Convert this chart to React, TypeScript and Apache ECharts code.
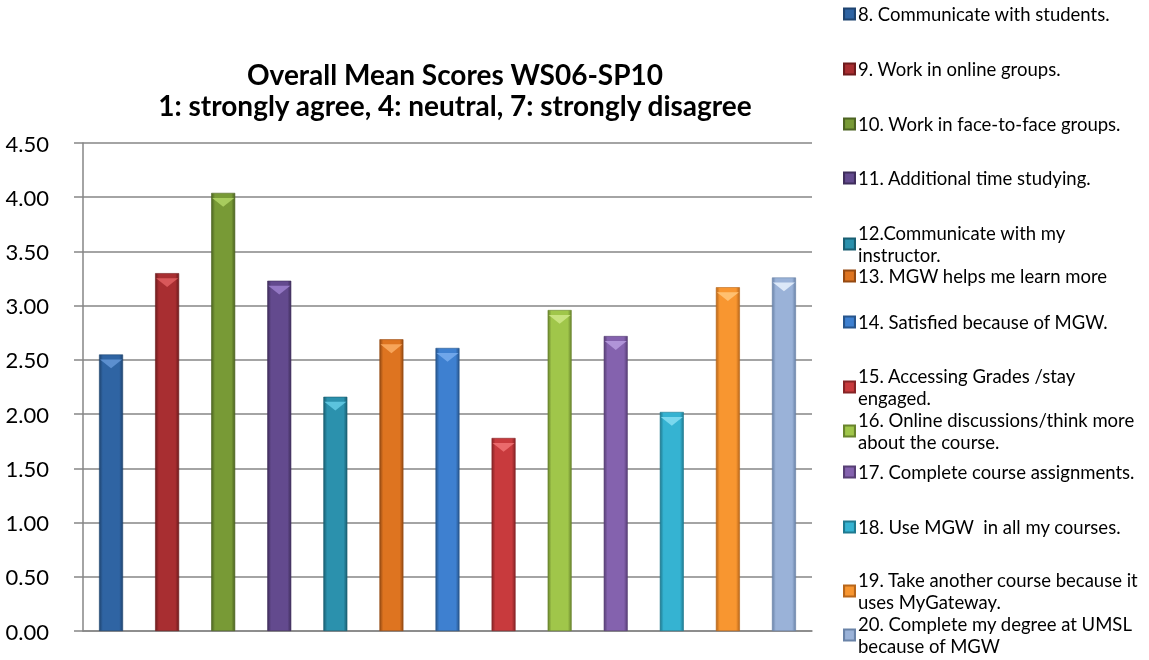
import React, { useEffect, useRef } from "react";
import * as echarts from "echarts";

const categories = [
  "8. Communicate with students.",
  "9. Work in online groups.",
  "10. Work in face-to-face groups.",
  "11. Additional time studying.",
  "12.Communicate with my instructor.",
  "13. MGW helps me learn more",
  "14. Satisfied because of MGW.",
  "15. Accessing Grades /stay engaged.",
  "16. Online discussions/think more about the course.",
  "17. Complete course assignments.",
  "18. Use MGW  in all my courses.",
  "19. Take another course because it uses MyGateway.",
  "20. Complete my degree at UMSL because of MGW",
];

const legendLabels = [
  "8. Communicate with students.",
  "9. Work in online groups.",
  "10. Work in face-to-face groups.",
  "11. Additional time studying.",
  "12.Communicate with my\ninstructor.",
  "13. MGW helps me learn more",
  "14. Satisfied because of MGW.",
  "15. Accessing Grades /stay\nengaged.",
  "16. Online discussions/think more\nabout the course.",
  "17. Complete course assignments.",
  "18. Use MGW  in all my courses.",
  "19. Take another course because it\nuses MyGateway.",
  "20. Complete my degree at UMSL\nbecause of MGW",
];

const values = [2.55, 3.3, 4.04, 3.23, 2.16, 2.69, 2.61, 1.78, 2.96, 2.72, 2.02, 3.17, 3.26];

const baseColors = [
  "#2F64A3", "#A82E31", "#789A36", "#634A8E", "#2B91AD", "#DE7420",
  "#3E80D0", "#C83A3D", "#A0C64A", "#8462AE", "#35B3D2", "#F89630", "#9AB2D8",
];
const darkColors = [
  "#1F4470", "#6E1B1D", "#4D6422", "#3F2E5C", "#1A5F72", "#954A12",
  "#27558C", "#862426", "#69842D", "#573F75", "#1F7A90", "#B8661A", "#6A83A8",
];
const capColors = [
  "#5C8FCF", "#D8585A", "#A8CC5E", "#9478C4", "#5BC3DD", "#F7A55A",
  "#6FA6EA", "#EA6A6C", "#C8E37F", "#B094D8", "#7AD8EE", "#FFC070", "#DCE8F8",
];

const legendTops = [3, 58, 113, 167, 222, 265, 311, 365, 409, 461, 516, 569, 613];

const yTicks = { min: 0, max: 4.5, interval: 0.5 };

export default function App() {
  const ref = useRef<HTMLDivElement>(null);
  useEffect(() => {
    if (!ref.current) return;
    const chart = echarts.init(ref.current, null, { renderer: "svg" });
    const font = "Lato, 'Open Sans', sans-serif";
    const grad = (i: number) =>
      new echarts.graphic.LinearGradient(0, 0, 1, 0, [
        { offset: 0, color: darkColors[i] },
        { offset: 0.15, color: baseColors[i] },
        { offset: 0.5, color: baseColors[i] },
        { offset: 0.85, color: baseColors[i] },
        { offset: 1, color: darkColors[i] },
      ]);
    const barSeries: any[] = categories.map((name, i) => ({
      type: "bar",
      name,
      data: values.map((v, j) => (j === i ? v : "-")),
      barWidth: 24,
      barGap: "-100%",
      itemStyle: { color: grad(i), borderColor: darkColors[i], borderWidth: 0.6 },
    }));
    const capSeries = {
      type: "pictorialBar",
      name: "cap",
      barGap: "-100%",
      symbol: "triangle",
      symbolRotate: 180,
      symbolSize: [22, 9],
      symbolPosition: "end",
      symbolOffset: [0, "55%"],
      z: 5,
      data: values.map((v, i) => ({ value: v, itemStyle: { color: capColors[i] } })),
    };
    const legends = categories.map((name, i) => ({
      data: [name],
      orient: "vertical",
      left: 843,
      top: legendTops[i],
      padding: 0,
      icon: "rect",
      itemWidth: 11,
      itemHeight: 11,
      itemGap: 0,
      selectedMode: false,
      formatter: () => legendLabels[i],
      textStyle: { fontFamily: font, fontSize: 18.5, color: "#000", lineHeight: 22, padding: [0, 0, 0, -2] },
    }));
    chart.setOption({
      animation: false,
      title: {
        text: "Overall Mean Scores WS06-SP10\n1: strongly agree, 4: neutral, 7: strongly disagree",
        left: 455,
        top: 58,
        padding: 0,
        textAlign: "center",
        textStyle: { fontFamily: font, fontSize: 28, fontWeight: "bold", color: "#000", lineHeight: 31 },
      },
      legend: legends,
      grid: { left: 83, right: 337, top: 143, bottom: 29, containLabel: false },
      xAxis: {
        type: "category",
        data: categories,
        axisLine: { lineStyle: { color: "#868686", width: 1.5 } },
        axisTick: { show: false },
        axisLabel: { show: false },
      },
      yAxis: {
        type: "value",
        min: yTicks.min,
        max: yTicks.max,
        interval: yTicks.interval,
        axisLine: { show: true, lineStyle: { color: "#868686", width: 1.5 } },
        axisTick: { show: true, length: 9, lineStyle: { color: "#868686", width: 1.5 } },
        splitLine: { lineStyle: { color: "#868686", width: 1.5 } },
        axisLabel: {
          formatter: (v: number) => v.toFixed(2),
          fontFamily: font,
          fontSize: 22,
          color: "#000",
          margin: 34,
        },
      },
      series: [...barSeries, capSeries],
    });
    return () => chart.dispose();
  }, []);
  return <div ref={ref} style={{ position: "fixed", left: 0, top: 0, width: 1149, height: 660 }} />;
}
